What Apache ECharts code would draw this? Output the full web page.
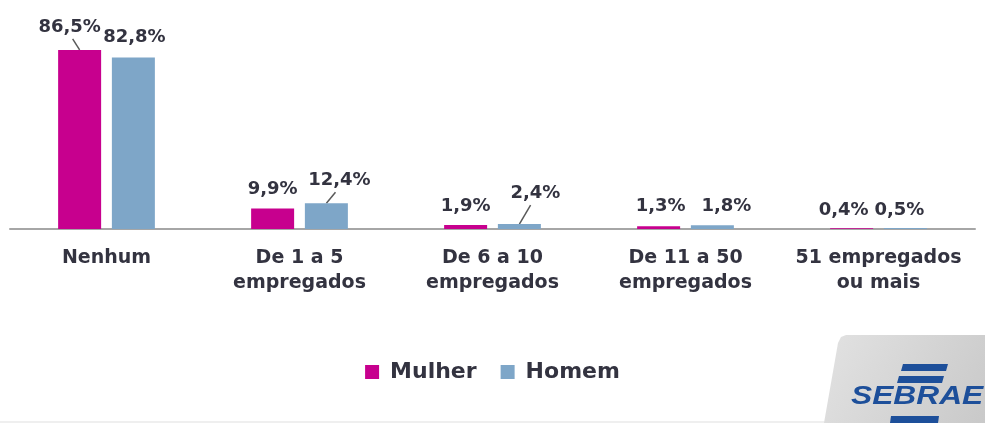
<!DOCTYPE html>
<html>
<head>
<meta charset="UTF-8">
<title>Empregados por sexo</title>
<script src="https://cdn.jsdelivr.net/npm/echarts@6/dist/echarts.min.js"></script>
<style>
  html, body { margin: 0; padding: 0; background: #fff; }
  #main { width: 985px; height: 423px; }
</style>
</head>
<body>
<div id="main"></div>
<script type="text/javascript">
// dados
var categorias = ['Nenhum', 'De 1 a 5\nempregados', 'De 6 a 10\nempregados', 'De 11 a 50\nempregados', '51 empregados\nou mais'];
var mulher = [86.5, 9.9, 1.9, 1.3, 0.4];
var homem = [82.8, 12.4, 2.4, 1.8, 0.5];

// deslocamento dos rótulos (dx, dy) e se tem linha guia
var desvioMulher = [[-10, -9], [0, -5], [0, -5], [2, -6], [-8, -4]];
var desvioHomem = [[1, -6], [13, -9], [16, -17], [14, -5], [-6, -4]];
var linhaMulher = [true, false, false, false, false];
var linhaHomem = [false, true, true, false, false];

var fonte = 'DejaVu Sans';
var corTexto = '#333340';
var distRotulo = 5;

function fmt(v) {
  return v.toFixed(1).replace('.', ',') + '%';
}

var myChart = echarts.init(document.getElementById('main'));

var rotulo = {
  show: true,
  position: 'top',
  distance: distRotulo,
  fontFamily: fonte,
  fontWeight: 'bold',
  fontSize: 18,
  color: corTexto,
  formatter: function (p) { return fmt(p.value); }
};

var option = {
  backgroundColor: '#ffffff',
  animation: false,
  grid: { left: 10, right: 10, top: 22, bottom: 194 },
  legend: {
    data: ['Mulher', 'Homem'],
    left: 'center',
    top: 356,
    icon: 'rect',
    itemWidth: 14,
    itemHeight: 14,
    itemGap: 24,
    textStyle: { fontFamily: fonte, fontWeight: 'bold', fontSize: 22, color: corTexto, padding: [0, 0, 0, 6] }
  },
  xAxis: {
    type: 'category',
    data: categorias,
    axisLine: { lineStyle: { color: '#a6a6a6', width: 2 } },
    axisTick: { show: false },
    axisLabel: {
      margin: 17,
      fontFamily: fonte,
      fontWeight: 'bold',
      fontSize: 19,
      lineHeight: 25,
      color: corTexto,
      interval: 0
    }
  },
  yAxis: {
    type: 'value',
    min: 0,
    max: 100,
    show: false,
    splitLine: { show: false }
  },
  series: [
    {
      name: 'Mulher',
      type: 'bar',
      barWidth: 43,
      barGap: '25%',
      data: mulher,
      itemStyle: { color: '#c7008e' },
      label: rotulo,
      labelLayout: function (p) {
        return { dx: desvioMulher[p.dataIndex][0], dy: desvioMulher[p.dataIndex][1] };
      }
    },
    {
      name: 'Homem',
      type: 'bar',
      barWidth: 43,
      data: homem,
      itemStyle: { color: '#7ea6c8' },
      label: rotulo,
      labelLayout: function (p) {
        return { dx: desvioHomem[p.dataIndex][0], dy: desvioHomem[p.dataIndex][1] };
      }
    }
  ],
  graphic: [
    {
      id: 'rodape',
      type: 'rect',
      shape: { x: 0, y: 421, width: 985, height: 2 },
      style: { fill: '#efefef' },
      silent: true
    },
    {
      id: 'painel',
      type: 'polygon',
      shape: { points: [[846, 335], [985, 335], [985, 423], [824, 423], [838, 343], [841, 337]] },
      style: {
        fill: new echarts.graphic.LinearGradient(0, 0, 1, 1, [
          { offset: 0, color: '#e2e2e2' },
          { offset: 1, color: '#c9c9c9' }
        ])
      },
      silent: true
    },
    {
      id: 'faixa1',
      type: 'polygon',
      shape: { points: [[903, 364], [948, 364], [946, 371], [901, 371]] },
      style: { fill: '#1d4f9a' },
      silent: true
    },
    {
      id: 'faixa2',
      type: 'polygon',
      shape: { points: [[899, 376], [944, 376], [942, 383], [897, 383]] },
      style: { fill: '#1d4f9a' },
      silent: true
    },
    {
      id: 'faixa3',
      type: 'polygon',
      shape: { points: [[891, 416], [939, 416], [938, 423], [890, 423]] },
      style: { fill: '#1d4f9a' },
      silent: true
    },
    {
      id: 'marca',
      type: 'text',
      x: 851,
      y: 384,
      scaleX: 1.22,
      style: {
        text: 'SEBRAE',
        font: 'italic bold 26px "Liberation Sans"',
        fill: '#1d4f9a'
      },
      silent: true
    }
  ]
};

myChart.setOption(option);

// linhas guia: do topo da barra até o rótulo deslocado
var guias = [];
[[desvioMulher, linhaMulher], [desvioHomem, linhaHomem]].forEach(function (cfg, s) {
  var dados = myChart.getModel().getSeriesByIndex(s).getData();
  cfg[1].forEach(function (tem, i) {
    if (!tem) return;
    var r = dados.getItemLayout(i);
    var x0 = r.x + r.width / 2;
    var y0 = Math.min(r.y, r.y + r.height);
    var d = cfg[0][i];
    guias.push({
      id: 'guia' + s + '_' + i,
      type: 'line',
      shape: { x1: x0, y1: y0, x2: x0 + d[0] * 0.7, y2: y0 - distRotulo + d[1] + 3 },
      style: { stroke: '#595959', lineWidth: 1.5 },
      silent: true
    });
  });
});
myChart.setOption({ graphic: guias });
</script>
</body>
</html>
